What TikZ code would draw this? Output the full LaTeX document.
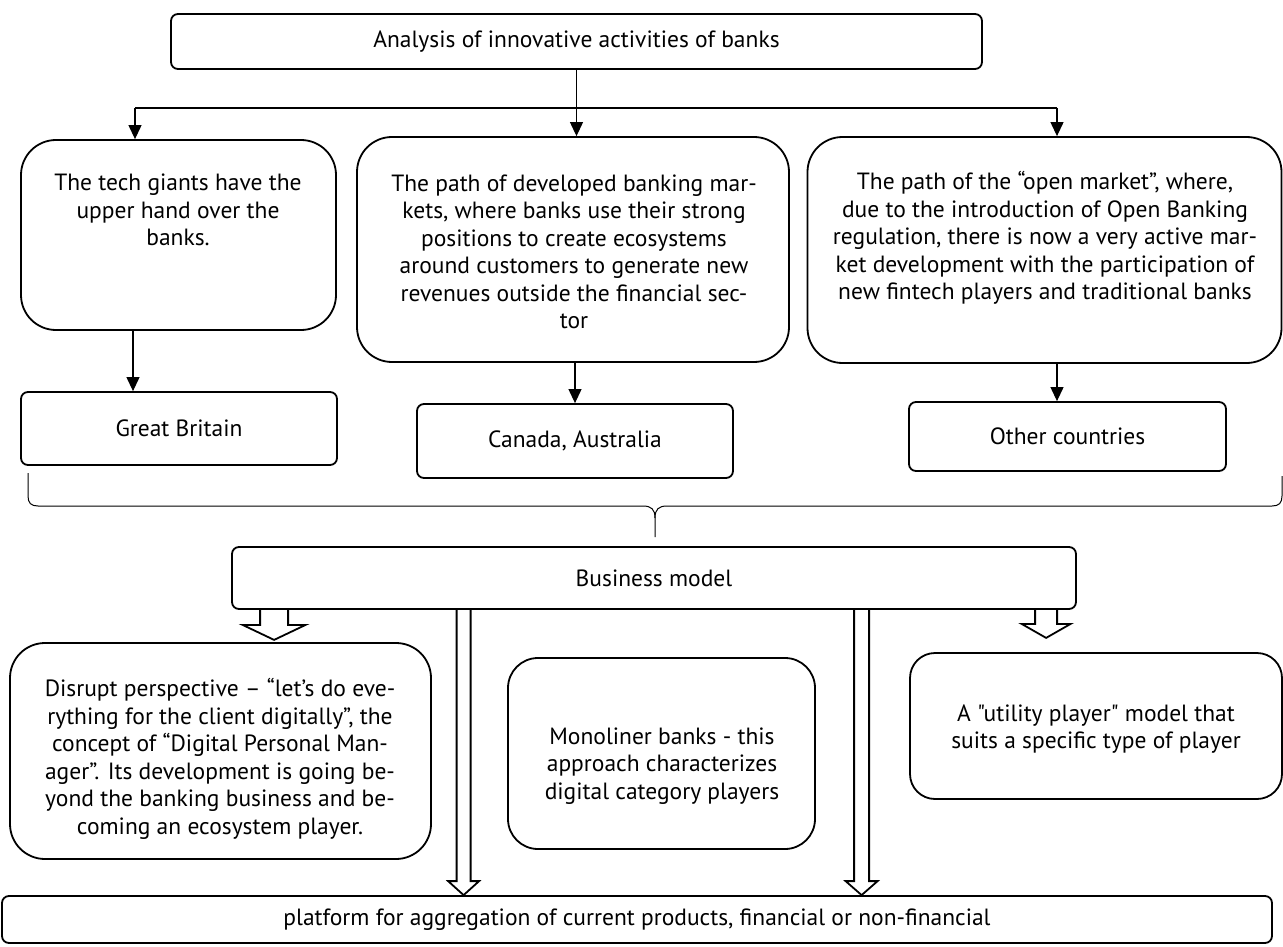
\documentclass[tikz,border=0pt]{standalone}
\usepackage{fontspec}
\setmainfont{PT Sans}[Ligatures=TeXOff]
\usetikzlibrary{arrows.meta,calc}
\newcommand\fs{\fontsize{23.5}{27.5}\selectfont}
\newcommand\hollowdown[5]{%
  \draw[hollow] let \p1=(#1), \p2=(#2) in
    ({\x1-#3pt},\y1) -- ({\x1-#3pt},{\y2+#5pt}) -- ({\x1-#4pt},{\y2+#5pt})
    -- (\x1,\y2) -- ({\x1+#4pt},{\y2+#5pt}) -- ({\x1+#3pt},{\y2+#5pt}) -- ({\x1+#3pt},\y1);}
\begin{document}
\begin{tikzpicture}[x=1pt,y=-1pt,
  box/.style={draw,line width=1.8pt,rounded corners=7pt,inner sep=0pt,font=\fs},
  rbox/.style={box,rounded corners=35pt},
  txt/.style={align=center,font=\fs,inner sep=0pt},
  arr/.style={line width=1.1pt,-{Triangle[width=13pt,length=14pt]}},
  thinline/.style={line width=1.1pt},
  hollow/.style={line width=1.8pt,line join=miter},
  bracestyle/.style={line width=1pt}]
\useasboundingbox (0,0) rectangle (1283,947);

% top
\node[box,minimum width=811pt,minimum height=55pt] (top) at (576.5,41.5) {Analysis of innovative activities of banks};

% three paths
\node[rbox,minimum width=315pt,minimum height=190pt] (b1) at (178.5,235) {};
\node[txt] (b1t) at (178,210) {The tech giants have the\\upper hand over the\\banks.};
\node[rbox,minimum width=432pt,minimum height=225pt] (b2) at (573,249.5) {};
\node[txt] (b2t) at (574,252) {The path of developed banking mar-\\kets, where banks use their strong\\positions to create ecosystems\\around customers to generate new\\revenues outside the financial sec-\\tor};
\node[rbox,minimum width=474pt,minimum height=226pt] (b3) at (1044.5,250) {};
\node[txt] (b3t) at (1045,238) {The path of the “open market”, where,\\due to the introduction of Open Banking\\regulation, there is now a very active mar-\\ket development with the participation of\\new fintech players and traditional banks};

% countries
\node[box,minimum width=316pt,minimum height=73pt] (gb) at (179,428.5) {Great Britain};
\node[box,minimum width=316pt,minimum height=74pt] (ca) at (575,441) {Canada, Australia};
\node[box,minimum width=317pt,minimum height=69pt] (oc) at (1067.5,436.5) {Other countries};

% business model
\node[box,minimum width=844pt,minimum height=62pt] (bm) at (654,578) {Business model};

% models
\node[rbox,minimum width=421pt,minimum height=216pt] (d) at (220.5,751) {};
\node[txt] (dt) at (220,759) {Disrupt perspective – “let’s do eve-\\rything for the client digitally”, the\\concept of “Digital Personal Man-\\ager”. Its development is going be-\\yond the banking business and be-\\coming an ecosystem player.};
\node[box,rounded corners=30pt,minimum width=307pt,minimum height=191pt] (m) at (661.5,753.5) {};
\node[txt] (mt) at (662,766) {Monoliner banks - this\\approach characterizes\\digital category players};
\node[box,rounded corners=25pt,minimum width=372pt,minimum height=146pt] (u) at (1096,726) {};
\node[txt] (ut) at (1096,729) {A "utility player" model that\\suits a specific type of player};

% platform
\node[box,minimum width=1270pt,minimum height=47pt] (pf) at (637,919.5) {platform for aggregation of current products, financial or non-financial};

% top connectors
\coordinate (bL) at (135,108);
\coordinate (bR) at (1057,108);
\draw[thinline] (bL) -- (bR);
\draw[arr] (bL) -- (bL |- b1.north);
\draw[arr] (bR) -- (bR |- b3.north);
\draw[arr] (top.south) -- (top.south |- b2.north);

% to countries
\draw[arr] ([xshift=-45.5pt]b1.south) -- ([xshift=-46pt]gb.north);
\draw[arr] ([xshift=2pt]b2.south) -- (ca.north);
\draw[arr] ([xshift=12.5pt]b3.south) -- ([xshift=-10.5pt]oc.north);

% brace
\draw[bracestyle] (28,473) -- (28,496) .. controls (28,503) and (31,506) .. (38,506)
  -- (643,506) .. controls (651,506) and (655,509) .. (655,518) -- (655,537);
\draw[bracestyle] (655,518) .. controls (655,509) and (659,506) .. (667,506)
  -- (1272,506) .. controls (1279,506) and (1282,503) .. (1282,496) -- (1282,476);

% hollow arrows
\path (bm.south west) ++(43,0) coordinate (h1a) ++(0,30) coordinate (h1b);
\path (bm.south west) ++(232.5,0) coordinate (h2a);
\path (bm.south west) ++(630.5,0) coordinate (h3a);
\path (bm.south west) ++(815,0) coordinate (h4a) ++(0,28) coordinate (h4b);
\hollowdown{h1a}{h1b}{14}{31.5}{15}
\hollowdown{h2a}{h2a |- pf.north}{7}{15.5}{14}
\hollowdown{h3a}{h3a |- pf.north}{7.5}{16}{14}
\hollowdown{h4a}{h4b}{11}{24.5}{14}
\end{tikzpicture}
\end{document}
